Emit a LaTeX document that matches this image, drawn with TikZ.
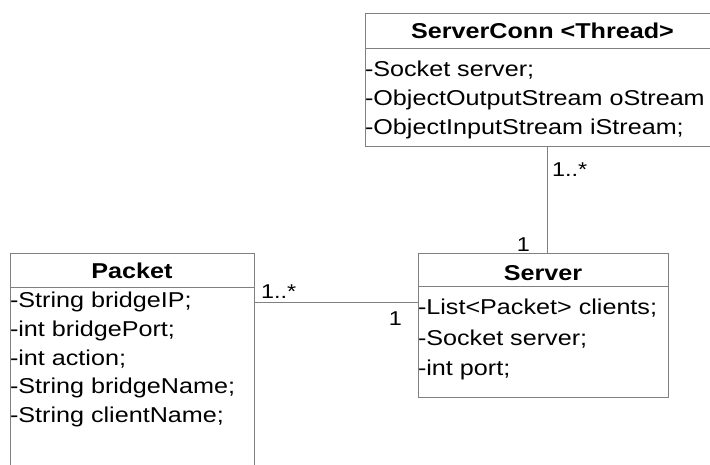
\documentclass[tikz,border=0pt]{standalone}
\usepackage{fontspec}
\setmainfont[FakeStretch=1.17]{Liberation Sans}
\begin{document}
\begin{tikzpicture}[x=1pt,y=-1pt,
  classbox/.style={draw=black!50, line width=1pt, inner sep=0pt, outer sep=0pt, anchor=north west},
  sepline/.style={draw=black!50, line width=1pt},
  link/.style={draw=black!50, line width=1pt},
  attr/.style={anchor=base west, inner sep=0pt, outer sep=0pt, font=\fontsize{21.5}{24}\selectfont},
  title/.style={anchor=base, inner sep=0pt, outer sep=0pt, font=\fontsize{21.5}{24}\selectfont\bfseries},
  multl/.style={anchor=base west, inner sep=0pt, font=\fontsize{20}{22}\selectfont},
  multr/.style={anchor=base east, inner sep=0pt, font=\fontsize{20}{22}\selectfont}]
\useasboundingbox (0,0) rectangle (710,465);
\fill[white] (0,0) rectangle (710,465);
\begin{scope}
\clip (0,0) rectangle (710,465);

% ServerConn class
\node[classbox, minimum width=355pt, minimum height=133pt] (conn) at (365,14) {};
\draw[sepline] ([yshift=-35pt]conn.north west) -- ([yshift=-35pt]conn.north east);
\node[title] (connT) at (542.5,39) {ServerConn <Thread>};
\node[attr] (conn1) at (365,77) {-Socket server;};
\node[attr] (conn2) at (365,106) {-ObjectOutputStream oStream};
\node[attr] (conn3) at (365,135) {-ObjectInputStream iStream;};

% Packet class
\node[classbox, minimum width=244pt, minimum height=230pt] (packet) at (10,254) {};
\draw[sepline] ([yshift=-34pt]packet.north west) -- ([yshift=-34pt]packet.north east);
\node[title] (packetT) at (132,279) {Packet};
\node[attr] (pk1) at (10,308) {-String bridgeIP;};
\node[attr] (pk2) at (10,337) {-int bridgePort;};
\node[attr] (pk3) at (10,365) {-int action;};
\node[attr] (pk4) at (10,393) {-String bridgeName;};
\node[attr] (pk5) at (10,422) {-String clientName;};

% Server class
\node[classbox, minimum width=250pt, minimum height=143pt] (server) at (418,254) {};
\draw[sepline] ([yshift=-33pt]server.north west) -- ([yshift=-33pt]server.north east);
\node[title] (serverT) at (543,280) {Server};
\node[attr] (sv1) at (418,315) {-List<Packet> clients;};
\node[attr] (sv2) at (418,345) {-Socket server;};
\node[attr] (sv3) at (418,375) {-int port;};

% associations
\draw[link] ([xshift=4pt]server.north) -- ([xshift=4pt]server.north |- conn.south);
\draw[link] ([yshift=-49pt]packet.north east) -- ([yshift=-49pt]packet.north east -| server.west);

% multiplicities
\node[multl] (m1) at (261,299) {1..*};
\node[multr] (m2) at (402,325) {1};
\node[multl] (m3) at (552,177) {1..*};
\node[multr] (m4) at (530,252) {1};
\end{scope}
\end{tikzpicture}
\end{document}
